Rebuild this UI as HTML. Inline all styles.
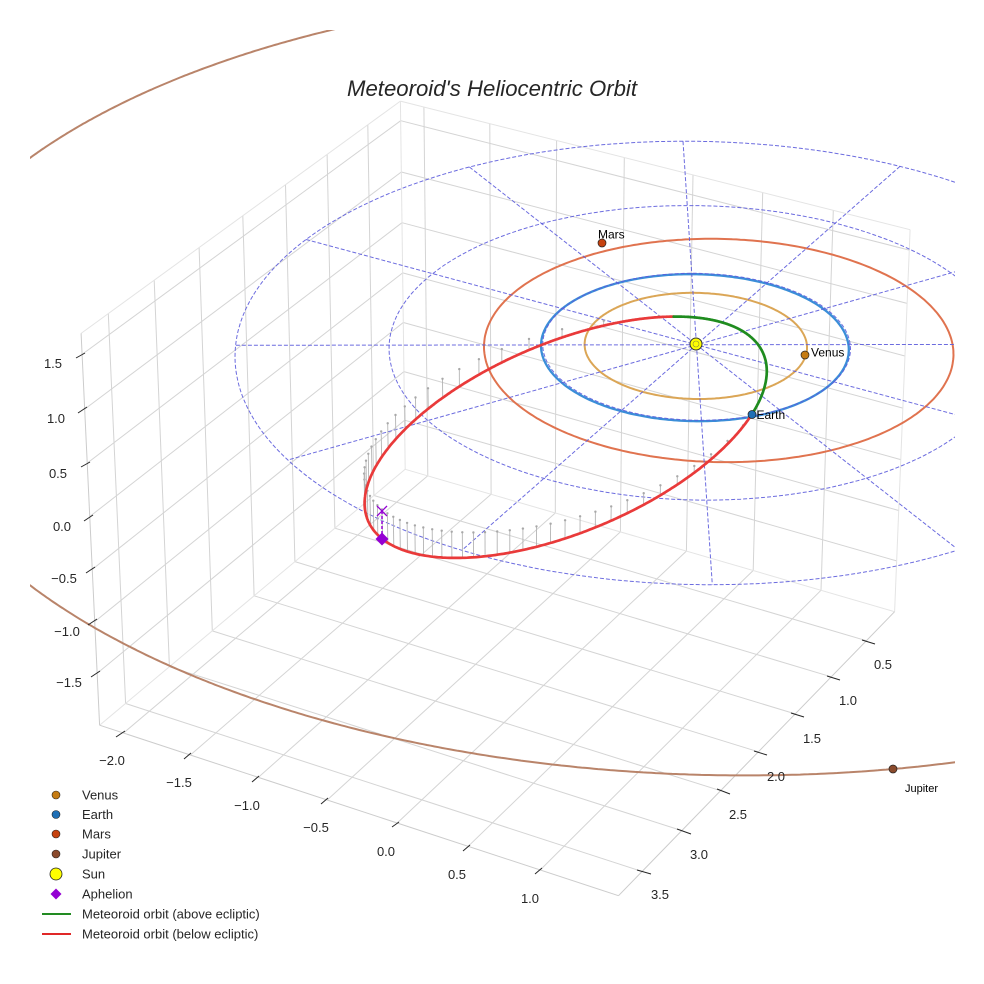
<!DOCTYPE html>
<html><head><meta charset="utf-8">
<style>html,body{margin:0;padding:0;background:#fff}svg{display:block}text{font-family:"Liberation Sans",Arial,sans-serif}</style>
</head><body>
<svg id="s" xmlns="http://www.w3.org/2000/svg" width="984" height="984" viewBox="0 0 984 984">
<defs><clipPath id="cp"><rect x="30" y="30" width="925" height="925"/></clipPath></defs>
<rect x="0" y="0" width="984" height="984" fill="#fff"/>
<g id="grid" clip-path="url(#cp)"></g>
<g id="data" clip-path="url(#cp)"></g>

<g stroke="#262626" stroke-width="1">
<line x1="116" y1="737" x2="125" y2="731"/><line x1="184" y1="759" x2="191" y2="753"/><line x1="252" y1="782" x2="259" y2="776"/><line x1="321" y1="804" x2="328" y2="798"/><line x1="392" y1="827" x2="399" y2="822"/><line x1="463" y1="851" x2="470" y2="845"/><line x1="535" y1="874" x2="542" y2="868"/>
<line x1="862" y1="640" x2="875" y2="644"/><line x1="827" y1="676" x2="840" y2="680"/><line x1="791" y1="713" x2="804" y2="717"/><line x1="754" y1="751" x2="767" y2="755"/><line x1="717" y1="789" x2="730" y2="794"/><line x1="677" y1="829" x2="691" y2="834"/><line x1="637" y1="870" x2="651" y2="874"/>
<line x1="76" y1="358" x2="85" y2="353"/><line x1="78" y1="413" x2="87" y2="407"/><line x1="81" y1="467" x2="90" y2="462"/><line x1="84" y1="521" x2="93" y2="515"/><line x1="86" y1="573" x2="95" y2="567"/><line x1="88" y1="625" x2="97" y2="619"/><line x1="91" y1="677" x2="100" y2="671"/>
</g>
<g font-size="13" fill="#262626" text-anchor="middle">
<text x="112" y="765">&#8722;2.0</text><text x="179" y="787">&#8722;1.5</text><text x="247" y="810">&#8722;1.0</text><text x="316" y="832">&#8722;0.5</text><text x="386" y="856">0.0</text><text x="457" y="879">0.5</text><text x="530" y="903">1.0</text>
<text x="883" y="669">0.5</text><text x="848" y="705">1.0</text><text x="812" y="743">1.5</text><text x="776" y="781">2.0</text><text x="738" y="819">2.5</text><text x="699" y="859">3.0</text><text x="660" y="899">3.5</text>
<text x="53" y="368">1.5</text><text x="56" y="423">1.0</text><text x="58" y="478">0.5</text><text x="62" y="531">0.0</text><text x="64" y="583">&#8722;0.5</text><text x="67" y="636">&#8722;1.0</text><text x="69" y="687">&#8722;1.5</text>
</g>

<text x="347" y="96" font-size="22" font-style="italic" fill="#262626" textLength="290" lengthAdjust="spacingAndGlyphs">Meteoroid's Heliocentric Orbit</text>

<!-- aphelion -->
<line x1="382" y1="539" x2="382" y2="511" stroke="#9400d3" stroke-width="1.5" stroke-dasharray="3 2"/>
<line x1="377" y1="506" x2="387" y2="516" stroke="#9400d3" stroke-width="1.3"/>
<line x1="377" y1="516" x2="387" y2="506" stroke="#9400d3" stroke-width="1.3"/>
<polygon points="382,532.5 388.5,539 382,545.5 375.5,539" fill="#9400d3"/>

<!-- planets -->
<circle cx="805" cy="355" r="4" fill="#c57b12" stroke="#222" stroke-width="0.7"/>
<circle cx="752" cy="414.5" r="4" fill="#1f6fb5" stroke="#222" stroke-width="0.7"/>
<circle cx="602" cy="243" r="4" fill="#c6420f" stroke="#222" stroke-width="0.7"/>
<circle cx="893" cy="769" r="4" fill="#8a4a2c" stroke="#222" stroke-width="0.7"/>
<circle cx="696" cy="344" r="6" fill="#ffff00" stroke="#333" stroke-width="1"/>
<circle cx="696" cy="344" r="3" fill="none" stroke="#8a8a40" stroke-width="0.6"/>
<g font-size="12" fill="#000">
<text x="811" y="356.5">Venus</text>
<text x="756.5" y="419">Earth</text>
<text x="598" y="238.5">Mars</text>
<text x="905" y="792" font-size="11">Jupiter</text>
</g>

<!-- legend -->
<g>
<circle cx="56" cy="795" r="4" fill="#c57b12" stroke="#222" stroke-width="0.6"/>
<circle cx="56" cy="814.5" r="4" fill="#1f6fb5" stroke="#222" stroke-width="0.6"/>
<circle cx="56" cy="834" r="4" fill="#c6420f" stroke="#222" stroke-width="0.6"/>
<circle cx="56" cy="854" r="4" fill="#8a4a2c" stroke="#222" stroke-width="0.6"/>
<circle cx="56" cy="874" r="6" fill="#ffff00" stroke="#222" stroke-width="0.8"/>
<polygon points="56,888.5 61.5,894 56,899.5 50.5,894" fill="#9400d3"/>
<line x1="42" y1="914" x2="71" y2="914" stroke="#228b22" stroke-width="2"/>
<line x1="42" y1="934" x2="71" y2="934" stroke="#e02828" stroke-width="2"/>
<g font-size="13" fill="#262626">
<text x="82" y="799.6">Venus</text>
<text x="82" y="819.1">Earth</text>
<text x="82" y="838.6">Mars</text>
<text x="82" y="858.6">Jupiter</text>
<text x="82" y="878.6">Sun</text>
<text x="82" y="898.6">Aphelion</text>
<text x="82" y="918.6">Meteoroid orbit (above ecliptic)</text>
<text x="82" y="938.6">Meteoroid orbit (below ecliptic)</text>
</g>
</g>
</svg>
<script>
(function(){
const NS="http://www.w3.org/2000/svg";
const Xmin=-2.18,Xmax=1.535,Ymin=0.09,Ymax=3.79,Zmin=-2.01,Zmax=1.69;
const C=[];
[[-2,124,733.8],[-1.5,190,755.4],[-1,258,777.6],[-0.5,327,800.1],[0,398,823.2],[0.5,469,846.4],[1,541,869.9]].forEach(t=>C.push([t[0],Ymax,Zmin,t[1],t[2]]));
[[0.5,866.3,641.3],[1,831.2,677.3],[1.5,794.9,714.2],[2,757.9,752.2],[2.5,720.7,790.1],[3,681.3,830.3],[3.5,641.3,871.3]].forEach(t=>C.push([Xmax,t[0],Zmin,t[1],t[2]]));
[[1.5,82.2,354.6],[1,84.2,408.9],[0.5,87.2,463.6],[0,90.2,516.9],[-0.5,92.2,568.9],[-1,94.2,620.9],[-1.5,97.2,672.9]].forEach(t=>C.push([Xmin,Ymax,t[0],t[1],t[2]]));
C.push([Xmin,Ymin,Zmax,400,102],[Xmax,Ymin,Zmax,912,230],[Xmin,Ymin,Zmin,405,470],[Xmax,Ymin,Zmin,895,612],[Xmax,Ymax,Zmin,618,895],[Xmin,Ymax,Zmin,100,726],[Xmin,Ymax,Zmax,81,333],[0,0,0,696,344,6]);
[[1.5,400,120],[1,402,172],[0.5,402,222],[0,403,272],[-0.5,404,322],[-1,405,372]].forEach(t=>C.push([Xmin,Ymin,t[0],t[1],t[2]]));
[[-2,423,107.8],[-1.5,489,124],[-1,556,141.5],[-0.5,624,158],[0,693,175.5],[0.5,763,193],[1,834,211]].forEach(t=>C.push([t[0],Ymin,Zmax,t[1],t[2]]));
[[3.5,108,313.4],[3,154,280.1],[2.5,199,247.6],[2,243,215.7],[1.5,286,184.6],[1,328,154.1],[0.5,368,125.2]].forEach(t=>C.push([Xmin,t[0],Zmax,t[1],t[2]]));

const A=[];for(let i=0;i<11;i++)A.push(new Float64Array(11));const B=new Float64Array(11);
function addRow(r,t,w){for(let i=0;i<11;i++){B[i]+=w*r[i]*t;for(let j=0;j<11;j++)A[i][j]+=w*r[i]*r[j];}}
C.forEach(c=>{const X=c[0],Y=c[1],Z=c[2],u=(c[3]-500)/500,v=(c[4]-500)/500,w=c[5]||1;
 addRow([X,Y,Z,1,0,0,0,0,-u*X,-u*Y,-u*Z],u,w);
 addRow([0,0,0,0,X,Y,Z,1,-v*X,-v*Y,-v*Z],v,w);});
function solve(M,b){const n=b.length;for(let i=0;i<n;i++){let m=i;for(let r=i+1;r<n;r++)if(Math.abs(M[r][i])>Math.abs(M[m][i]))m=r;
 let tmp=M[i];M[i]=M[m];M[m]=tmp;let tb=b[i];b[i]=b[m];b[m]=tb;
 for(let r=i+1;r<n;r++){const f=M[r][i]/M[i][i];for(let c=i;c<n;c++)M[r][c]-=f*M[i][c];b[r]-=f*b[i];}}
 const x=new Array(n).fill(0);for(let i=n-1;i>=0;i--){let s=b[i];for(let c=i+1;c<n;c++)s-=M[i][c]*x[c];x[i]=s/M[i][i];}return x;}
const p=solve(A,B);
function P(X,Y,Z){const w=p[8]*X+p[9]*Y+p[10]*Z+1;return[(p[0]*X+p[1]*Y+p[2]*Z+p[3])/w*500+500,(p[4]*X+p[5]*Y+p[6]*Z+p[7])/w*500+500];}
function inv(sx,sy,Z0){const u=(sx-500)/500,v=(sy-500)/500;
 const a11=p[0]-u*p[8],a12=p[1]-u*p[9],b1=u*(p[10]*Z0+1)-p[2]*Z0-p[3];
 const a21=p[4]-v*p[8],a22=p[5]-v*p[9],b2=v*(p[10]*Z0+1)-p[6]*Z0-p[7];
 const det=a11*a22-a12*a21;return[(b1*a22-a12*b2)/det,(a11*b2-b1*a21)/det];}
function zAt(X,Y,sy){const v=(sy-500)/500;return(p[4]*X+p[5]*Y+p[7]-v*(p[8]*X+p[9]*Y+1))/(v*p[10]-p[6]);}

function mk(tag,attrs,par){const e=document.createElementNS(NS,tag);for(const k in attrs)e.setAttribute(k,attrs[k]);par.appendChild(e);return e;}
function d3(pts){let s='';for(let i=0;i<pts.length;i++){const q=P(pts[i][0],pts[i][1],pts[i][2]);s+=(i?'L':'M')+q[0].toFixed(1)+','+q[1].toFixed(1);}return s;}
function pl(pts,attrs,par){const a=Object.assign({},attrs);a.d=d3(pts);a.fill='none';return mk('path',a,par);}

const G=document.getElementById('grid');
const xt=[-2,-1.5,-1,-0.5,0,0.5,1],yt=[0.5,1,1.5,2,2.5,3,3.5],zt=[-1.5,-1,-0.5,0,0.5,1,1.5];
const ga={stroke:'#d4d4d4','stroke-width':'1'};
xt.forEach(x=>{pl([[x,Ymin,Zmin],[x,Ymax,Zmin]],ga,G);pl([[x,Ymin,Zmin],[x,Ymin,Zmax]],ga,G);});
yt.forEach(y=>{pl([[Xmin,y,Zmin],[Xmax,y,Zmin]],ga,G);pl([[Xmin,y,Zmin],[Xmin,y,Zmax]],ga,G);});
zt.forEach(z=>{pl([[Xmin,Ymin,z],[Xmax,Ymin,z]],ga,G);pl([[Xmin,Ymin,z],[Xmin,Ymax,z]],ga,G);});
const ea={stroke:'#e4e4e4','stroke-width':'1'};
[[[Xmin,Ymin,Zmax],[Xmax,Ymin,Zmax]],[[Xmin,Ymin,Zmax],[Xmin,Ymax,Zmax]],[[Xmax,Ymin,Zmin],[Xmax,Ymin,Zmax]],[[Xmin,Ymin,Zmin],[Xmin,Ymin,Zmax]],[[Xmin,Ymin,Zmin],[Xmax,Ymin,Zmin]],[[Xmin,Ymin,Zmin],[Xmin,Ymax,Zmin]]].forEach(s=>pl(s,ea,G));
const aa={stroke:'#cccccc','stroke-width':'1'};
[[[Xmin,Ymax,Zmin],[Xmax,Ymax,Zmin]],[[Xmax,Ymin,Zmin],[Xmax,Ymax,Zmin]],[[Xmin,Ymax,Zmin],[Xmin,Ymax,Zmax]]].forEach(s=>pl(s,aa,G));

const D=document.getElementById('data');
const deg=Math.PI/180;
function orbitPts(a,e,w,n){const r=[];for(let i=0;i<=n;i++){const nu=i/n*2*Math.PI;const rr=a*(1-e*e)/(1+e*Math.cos(nu));r.push([rr*Math.cos(nu+w),rr*Math.sin(nu+w),0]);}return r;}
const jc=[-0.027,-0.288];const Jp=inv(893,769,0);let ja=Math.hypot(Jp[0]-jc[0],Jp[1]-jc[1]);if(!(ja>4.7&&ja<5.8))ja=5.25;
const jpts=[];for(let i=0;i<=1440;i++){const t=i/1440*2*Math.PI;jpts.push([jc[0]+ja*Math.cos(t),jc[1]+ja*Math.sin(t),0]);}
pl(jpts,{stroke:'#b9846a','stroke-width':'2'},D);
pl(orbitPts(0.723,0.0068,311.5*deg,360),{stroke:'#dba656','stroke-width':'2'},D);
pl(orbitPts(1.0,0.0167,282.9*deg,360),{stroke:'#3b8ed8','stroke-width':'2.3'},D);
pl(orbitPts(1.524,0.0934,156*deg,360),{stroke:'#e0734f','stroke-width':'2'},D);
const da={stroke:'#5c5cdc','stroke-width':'1','stroke-dasharray':'4 2','stroke-opacity':'0.9'};
[1,2,3].forEach(r=>pl(orbitPts(r,0,0,360),da,D));
for(let k=0;k<6;k++){const t=k*30*deg;pl([[-3*Math.cos(t),-3*Math.sin(t),0],[3*Math.cos(t),3*Math.sin(t),0]],da,D);}

// ---- meteoroid orbit: initial 3-point solution ----
const nrm=v=>Math.hypot(v[0],v[1],v[2]);
const dot=(a,b)=>a[0]*b[0]+a[1]*b[1]+a[2]*b[2];
const sc=(v,s)=>[v[0]*s,v[1]*s,v[2]*s];
const Ap=inv(382,511,0);const A3=[Ap[0],Ap[1],zAt(Ap[0],Ap[1],539)];
const Ne=inv(752,414.5,0);const N1=[Ne[0],Ne[1],0];
const N2p=inv(673,316,0);const r2=Math.hypot(N2p[0],N2p[1]);
const r1=nrm(N1);const U0=sc(N1,1/r1);
const aU=dot(A3,U0);let V0=[A3[0]-aU*U0[0],A3[1]-aU*U0[1],A3[2]-aU*U0[2]];V0=sc(V0,1/nrm(V0));
const Q=nrm(A3);const thA=Math.atan2(dot(A3,V0),aU);
const al=(1/r1+1/r2)/2,be=(1/r1-1/r2)/2;const gm=(1/Q-al-be*Math.cos(thA))/Math.sin(thA);
let ec0=Math.hypot(be,gm)/al,pr0=1/al,thp0=Math.atan2(gm,be);
if(!(ec0>0.3&&ec0<0.97)){const Pd=sc(A3,-1/Q);const cn=dot(N1,Pd)/r1;ec0=(Q-r1)/(Q+r1*cn);if(!(ec0>0&&ec0<0.97))ec0=0.78;pr0=Q*(1-ec0);
 thp0=Math.atan2(dot(Pd,V0),dot(Pd,U0));}
const Om0=Math.atan2(U0[1],U0[0]);
const inc0=Math.atan2(V0[2],-Math.sin(Om0)*V0[0]+Math.cos(Om0)*V0[1]);

function mkOrb(x){const pr=x[0],ec=x[1],Om=x[2],inc=x[3],thp=x[4];
 return {pr:pr,ec:ec,thp:thp,inc:inc,U:[Math.cos(Om),Math.sin(Om),0],V:[-Math.sin(Om)*Math.cos(inc),Math.cos(Om)*Math.cos(inc),Math.sin(inc)]};}
function posT(o,th){const r=o.pr/(1+o.ec*Math.cos(th-o.thp));const c=Math.cos(th)*r,s=Math.sin(th)*r;
 return[c*o.U[0]+s*o.V[0],c*o.U[1]+s*o.V[1],c*o.U[2]+s*o.V[2]];}

const REF=[[673.3,316],[640,318.3],[606.7,323.3],[573.3,333.3],[540,345],[513,357],[486.7,370.7],[463,384],[440,398.3],[425,411],[411.7,423.3],[400,435],[390,446.7],[381,460],[373.3,473.3],[369,487],[366.7,500],
[368,512],[372,524],[382.5,538.5],
[400,549],[433,556.5],[467,558],[500,555],[533,548],[567,538],[600,527],[617,520],[647,507],[677,490],[703,467],[727,440],
[697,317.3],[727,325],[750,340],[763,356.7],[766.7,373.3],[763,390],[756.7,406.7],[752.5,414.5]];
const TOPS=[[532.7,337.3],[500,350],[473.3,362.7],[451,375],[432.7,386.7],[417.3,397.7],[404.3,408.3],[393.3,418.3],[385,428.3],[378.3,438.3],[372.7,446.7],[369.3,455],
[445.7,533.3],[513,527],[581,518],[618,507],[657,490],[697,467]];
const NSMP=720;const cth=[],sth=[];for(let k=0;k<NSMP;k++){cth.push(Math.cos(k/NSMP*2*Math.PI));sth.push(Math.sin(k/NSMP*2*Math.PI));}
const su=new Float64Array(NSMP),sv=new Float64Array(NSMP),tu=new Float64Array(NSMP),tv=new Float64Array(NSMP);
function cost(x){
 if(!(x[1]>0.05&&x[1]<0.985&&x[0]>0.05&&x[0]<3))return 1e12;
 const o=mkOrb(x);let nt=0;
 for(let k=0;k<NSMP;k++){const th=k/NSMP*2*Math.PI;const r=o.pr/(1+o.ec*Math.cos(th-o.thp));const c=cth[k]*r,s=sth[k]*r;
  const X=c*o.U[0]+s*o.V[0],Y=c*o.U[1]+s*o.V[1],Z=c*o.U[2]+s*o.V[2];
  const q=P(X,Y,Z);su[k]=q[0];sv[k]=q[1];
  if(Z<0){const t=P(X,Y,0);tu[nt]=t[0];tv[nt]=t[1];nt++;}}
 let S=0;
 for(let i=0;i<REF.length;i++){const rx=REF[i][0],ry=REF[i][1];let m=1e18;
  for(let k=0;k<NSMP;k++){const dx=su[k]-rx,dy=sv[k]-ry;const d=dx*dx+dy*dy;if(d<m)m=d;}S+=m;}
 if(nt<2)return 1e11;
 for(let i=0;i<TOPS.length;i++){const rx=TOPS[i][0],ry=TOPS[i][1];let m=1e18;
  for(let k=0;k<nt;k++){const dx=tu[k]-rx,dy=tv[k]-ry;const d=dx*dx+dy*dy;if(d<m)m=d;}S+=0.8*m;}
 let a=P(...posT(o,0));S+=1*((a[0]-752.5)**2+(a[1]-414.5)**2);
 a=P(...posT(o,Math.PI));S+=1*((a[0]-672)**2+(a[1]-316.5)**2);
 const ap=posT(o,o.thp+Math.PI);a=P(ap[0],ap[1],ap[2]);S+=0.5*((a[0]-382.5)**2+(a[1]-538.5)**2);
 a=P(ap[0],ap[1],0);S+=0.5*((a[0]-382)**2+(a[1]-511)**2);
 return S;}
function nm(f,x0,steps,iters){
 const n=x0.length;let S=[x0.slice()];for(let i=0;i<n;i++){const x=x0.slice();x[i]+=steps[i];S.push(x);}
 let F=S.map(f);
 for(let it=0;it<iters;it++){
  const idx=[];for(let i=0;i<=n;i++)idx.push(i);idx.sort((a,b)=>F[a]-F[b]);S=idx.map(i=>S[i]);F=idx.map(i=>F[i]);
  const c=new Array(n).fill(0);for(let i=0;i<n;i++)for(let j=0;j<n;j++)c[j]+=S[i][j]/n;
  const xr=c.map((v,j)=>v+(v-S[n][j]));const fr=f(xr);
  if(fr<F[0]){const xe=c.map((v,j)=>v+2*(v-S[n][j]));const fe=f(xe);if(fe<fr){S[n]=xe;F[n]=fe;}else{S[n]=xr;F[n]=fr;}}
  else if(fr<F[n-1]){S[n]=xr;F[n]=fr;}
  else{const xc=c.map((v,j)=>v+0.5*(S[n][j]-v));const fc=f(xc);
   if(fc<F[n]){S[n]=xc;F[n]=fc;}
   else{for(let i=1;i<=n;i++){S[i]=S[i].map((v,j)=>S[0][j]+0.5*(v-S[0][j]));F[i]=f(S[i]);}}}
 }
 let b=0;for(let i=1;i<=n;i++)if(F[i]<F[b])b=i;return [S[b],F[b]];}
let x0=[pr0,ec0,Om0,inc0,thp0];let best=x0,bf=cost(x0);
try{
 let r=nm(cost,x0,[0.05,0.03,0.06,0.03,0.1],900);if(r[1]<bf){best=r[0];bf=r[1];}
 r=nm(cost,best,[0.03,0.02,0.04,0.02,0.06],600);if(r[1]<bf){best=r[0];bf=r[1];}
}catch(err){}
const O=mkOrb(best);

const S=mk('g',{},D);
const NST=60;
for(let k=0;k<NST;k++){const M=k*2*Math.PI/NST;let E=Math.PI;
 for(let it=0;it<60;it++)E=E-(E-O.ec*Math.sin(E)-M)/(1-O.ec*Math.cos(E));
 const nu=2*Math.atan2(Math.sqrt(1+O.ec)*Math.sin(E/2),Math.sqrt(1-O.ec)*Math.cos(E/2));
 const q=posT(O,nu+O.thp);
 if(q[2]<0){pl([q,[q[0],q[1],0]],{stroke:'#b4b4b4','stroke-width':'0.9'},S);const t=P(q[0],q[1],0);mk('circle',{cx:t[0].toFixed(1),cy:t[1].toFixed(1),r:'1.2',fill:'#a8a8a8'},S);}}

const Nn=1440;let cur=null,pts=[];
function flush(){if(pts.length>1)pl(pts,{stroke:cur?'#1f8c1f':'#e93a3a','stroke-width':'2.7','stroke-linecap':'round','stroke-linejoin':'round'},D);}
for(let i=0;i<=Nn;i++){const q=posT(O,i/Nn*2*Math.PI);const s=q[2]>=0;
 if(cur===null)cur=s;
 if(s!==cur){pts.push(q);flush();pts=[q];cur=s;}else pts.push(q);}
flush();
})();
</script>
</body></html>
